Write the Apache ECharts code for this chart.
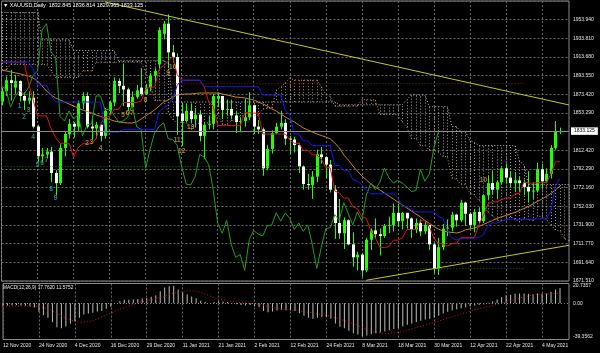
<!DOCTYPE html>
<html>
<head>
<meta charset="utf-8">
<title>XAUUSD Daily</title>
<script src="https://cdn.jsdelivr.net/npm/echarts@6/dist/echarts.min.js"></script>
<style>
  html, body { margin: 0; padding: 0; background: #000; }
  #chart { width: 600px; height: 353px; }
</style>
</head>
<body>
<div id="chart"></div>
<script>
// daily bars, 12 Nov 2020 .. 10 May 2021, plus two future slots for the cloud
const dates = ['12 Nov 2020','13 Nov 2020','16 Nov 2020','17 Nov 2020','18 Nov 2020','19 Nov 2020','20 Nov 2020','23 Nov 2020','24 Nov 2020','25 Nov 2020','26 Nov 2020','27 Nov 2020','30 Nov 2020',
  '1 Dec 2020','2 Dec 2020','3 Dec 2020','4 Dec 2020','7 Dec 2020','8 Dec 2020','9 Dec 2020','10 Dec 2020','11 Dec 2020','14 Dec 2020','15 Dec 2020','16 Dec 2020','17 Dec 2020','18 Dec 2020','21 Dec 2020','22 Dec 2020','23 Dec 2020','24 Dec 2020','28 Dec 2020','29 Dec 2020','30 Dec 2020','31 Dec 2020',
  '4 Jan 2021','5 Jan 2021','6 Jan 2021','7 Jan 2021','8 Jan 2021','11 Jan 2021','12 Jan 2021','13 Jan 2021','14 Jan 2021','15 Jan 2021','18 Jan 2021','19 Jan 2021','20 Jan 2021','21 Jan 2021','22 Jan 2021','25 Jan 2021','26 Jan 2021','27 Jan 2021','28 Jan 2021','29 Jan 2021',
  '1 Feb 2021','2 Feb 2021','3 Feb 2021','4 Feb 2021','5 Feb 2021','8 Feb 2021','9 Feb 2021','10 Feb 2021','11 Feb 2021','12 Feb 2021','15 Feb 2021','16 Feb 2021','17 Feb 2021','18 Feb 2021','19 Feb 2021','22 Feb 2021','23 Feb 2021','24 Feb 2021','25 Feb 2021','26 Feb 2021',
  '1 Mar 2021','2 Mar 2021','3 Mar 2021','4 Mar 2021','5 Mar 2021','8 Mar 2021','9 Mar 2021','10 Mar 2021','11 Mar 2021','12 Mar 2021','15 Mar 2021','16 Mar 2021','17 Mar 2021','18 Mar 2021','19 Mar 2021','22 Mar 2021','23 Mar 2021','24 Mar 2021','25 Mar 2021','26 Mar 2021','29 Mar 2021','30 Mar 2021','31 Mar 2021',
  '1 Apr 2021','5 Apr 2021','6 Apr 2021','7 Apr 2021','8 Apr 2021','9 Apr 2021','12 Apr 2021','13 Apr 2021','14 Apr 2021','15 Apr 2021','16 Apr 2021','19 Apr 2021','20 Apr 2021','21 Apr 2021','22 Apr 2021','23 Apr 2021','26 Apr 2021','27 Apr 2021','28 Apr 2021','29 Apr 2021','30 Apr 2021',
  '3 May 2021','4 May 2021','5 May 2021','6 May 2021','7 May 2021','10 May 2021','11 May 2021','12 May 2021'];

const open = [1865,1876,1888,1880,1887,1871,1866,1869,1838,1806,
  1808,1811,1788,1777,1815,1830,1841,1838,1863,1871,
  1838,1836,1840,1828,1855,1864,1887,1882,1878,1859,
  1870,1880,1873,1880,1893,1905,1938,1949,1918,1913,
  1852,1844,1855,1846,1851,1828,1840,1841,1868,1871,
  1856,1857,1850,1843,1844,1848,1861,1838,1835,1793,
  1814,1831,1838,1842,1825,1824,1818,1795,1776,1775,
  1784,1808,1805,1797,1770,1734,1723,1737,1711,1697,
  1700,1683,1716,1726,1722,1720,1731,1732,1745,1736,
  1745,1739,1727,1734,1725,1732,1711,1685,1708,1728,
  1729,1743,1737,1756,1744,1732,1746,1736,1764,1777,
  1770,1778,1793,1783,1777,1780,1777,1773,1768,1769,
  1792,1779,1787,1815,1832.845];
const high = [1880,1892,1899,1894,1888,1875,1876,1876,1840,1815,
  1815,1816,1791,1819,1833,1846,1843,1866,1875,1875,
  1850,1843,1840,1858,1866,1891,1890,1906,1880,1876,
  1883,1901,1884,1896,1901,1945,1952,1959,1926,1917,
  1864,1863,1863,1858,1855,1843,1850,1873,1875,1871,
  1867,1867,1854,1848,1868,1875,1862,1845,1837,1818,
  1834,1842,1855,1846,1828,1827,1820,1796,1787,1790,
  1813,1816,1806,1802,1775,1760,1740,1738,1724,1703,
  1702,1718,1728,1739,1728,1733,1741,1755,1755,1746,
  1745,1740,1739,1738,1736,1732,1713,1718,1733,1738,
  1746,1744,1759,1757,1746,1749,1751,1765,1785,1790,
  1780,1794,1798,1790,1789,1784,1781,1790,1778,1799,
  1798,1793,1818,1844,1836.814];
const low = [1861,1871,1866,1873,1865,1856,1862,1836,1800,1799,
  1804,1778,1764,1775,1806,1825,1826,1833,1857,1836,
  1824,1825,1822,1825,1851,1860,1874,1860,1855,1858,
  1868,1871,1872,1876,1885,1900,1932,1901,1907,1829,
  1817,1843,1842,1837,1822,1803,1835,1835,1860,1846,
  1850,1846,1831,1832,1838,1845,1830,1830,1785,1791,
  1809,1830,1835,1818,1808,1810,1788,1770,1770,1760,
  1778,1798,1782,1767,1717,1717,1706,1710,1687,1683,
  1676,1681,1705,1717,1699,1718,1723,1725,1730,1727,
  1728,1718,1723,1720,1722,1705,1680,1678,1705,1720,
  1725,1730,1735,1731,1728,1724,1733,1734,1759,1765,
  1760,1776,1777,1773,1768,1768,1764,1756,1760,1767,
  1771,1777,1782,1813,1829.965];
const close = [1876,1888,1885,1887,1871,1866,1869,1838,1806,1808,
  1811,1788,1777,1815,1830,1841,1838,1863,1871,1838,
  1836,1840,1828,1855,1864,1887,1882,1878,1859,1870,
  1877,1873,1880,1893,1898,1942,1949,1918,1913,1849,
  1844,1855,1846,1851,1828,1840,1841,1871,1871,1856,
  1857,1850,1843,1844,1848,1861,1838,1835,1793,1814,
  1831,1838,1842,1825,1824,1818,1795,1776,1775,1784,
  1808,1805,1797,1770,1734,1723,1737,1711,1697,1700,
  1683,1716,1726,1722,1720,1731,1732,1745,1736,1745,
  1739,1727,1734,1725,1732,1711,1685,1708,1728,1729,
  1743,1737,1756,1744,1732,1746,1736,1764,1777,1770,
  1778,1793,1783,1777,1780,1777,1773,1768,1769,1792,
  1779,1787,1815,1832.5,1833.125];

// Ichimoku lines
const tenkan = [1907.5,1907.5,1907.5,1907.5,1907.5,1907.5,1885,1867.5,1849.5,1849.5,
  1849.5,1836,1826,1820,1820,1820,1805,1815,1819.5,1819.5,
  1819.5,1825,1840.5,1848.5,1848.5,1856.5,1856.5,1864,1864,1864,
  1864,1865.5,1878.5,1880.5,1880.5,1900,1903.5,1908.5,1913.5,1894,
  1888,1888,1888,1888,1888,1881,1864.5,1860,1839,1839,
  1839,1839,1839,1839,1853,1853,1852.5,1852.5,1830,1830,
  1830,1830,1830,1830,1823.5,1820,1820,1812.5,1812.5,1807.5,
  1807.5,1803,1794,1793.5,1768.5,1766.5,1761,1761,1751.5,1749.5,
  1741,1739,1725.5,1718,1708,1707.5,1708.5,1715.5,1715.5,1718,
  1727,1727,1727,1736.5,1736.5,1730,1717.5,1712,1711.5,1709,
  1712,1712,1718.5,1718.5,1718.5,1718.5,1732,1742.5,1754.5,1757,
  1757,1759,1761,1761,1765.5,1766,1778.5,1777,1777,1777.5,
  1777.5,1777.5,1787,1800,1800];
const kijun = [1907.5,1907.5,1907.5,1907.5,1907.5,1907.5,1907.5,1900.5,1882.5,1882.5,
  1882.5,1871.5,1864.5,1864.5,1864.5,1864.5,1864.5,1864.5,1864.5,1864.5,
  1864.5,1864.5,1864.5,1832,1832,1832,1832,1835,1835,1835,
  1835,1835,1835,1835,1835,1854.5,1858,1861.5,1867,1882.5,
  1888,1888,1888,1888,1888,1881,1881,1881,1881,1881,
  1881,1881,1881,1881,1881,1881,1881,1881,1872,1872,
  1872,1872,1872,1855.5,1851,1830,1830,1822.5,1822.5,1817.5,
  1817.5,1817.5,1817.5,1817.5,1796,1796,1790.5,1790.5,1781,1779,
  1775.5,1769,1765.5,1765.5,1765.5,1765.5,1765.5,1765.5,1761,1752,
  1751.5,1748,1746,1746,1746,1746,1746,1741,1739,1725.5,
  1718,1715.5,1717.5,1717.5,1717.5,1717.5,1718.5,1721.5,1731.5,1734,
  1734,1736,1738,1738,1738,1738,1738,1738,1738,1738.5,
  1738.5,1738.5,1748,1774.5,1782];
const senkouA = [1899,1899,1905,1905,1905,1905,1905,1905,1905,1905,
  1905,1898,1891,1891,1891,1891,1891,1891,1898,1898,
  1898,1907,1907,1907,1907,1907,1907.5,1907.5,1907.5,1907.5,
  1907.5,1907.5,1896.3,1884,1866,1866,1866,1853.8,1845.3,1842.3,
  1842.3,1842.3,1834.8,1839.8,1842,1842,1842,1844.8,1852.5,1840.3,
  1840.3,1844.3,1844.3,1849.5,1849.5,1849.5,1849.5,1850.3,1856.8,1857.8,
  1857.8,1877.3,1880.8,1885,1890.3,1888.3,1888,1888,1888,1888,
  1888,1881,1872.8,1870.5,1860,1860,1860,1860,1860,1860,
  1867,1867,1866.8,1866.8,1851,1851,1851,1851,1851,1842.8,
  1837.3,1825,1825,1817.5,1817.5,1812.5,1812.5,1810.3,1805.8,1805.5,
  1782.3,1781.3,1775.8,1775.8,1766.3,1764.3,1758.3,1754,1745.5,1741.8,
  1736.8,1736.5,1737,1740.5,1738.3,1735,1739.3,1737.5,1736.5,1741.3,
  1741.3,1738,1731.8,1726.5,1725.3,1717.3,1715];
const senkouB = [1961,1961,1961,1961,1961,1961,1961,1961,1961,1931.5,
  1931.5,1931.5,1931.5,1931.5,1931.5,1931.5,1920,1920,1920,1920,
  1920,1920,1920,1920,1920,1920,1909,1909,1909,1909,
  1909,1909,1909,1909,1909,1909,1909,1906.5,1864.5,1864.5,
  1864.5,1864.5,1864.5,1864.5,1864.5,1864.5,1864.5,1864.5,1864.5,1864.5,
  1864.5,1864.5,1864.5,1864.5,1864.5,1864.5,1864.5,1864.5,1864.5,1864.5,
  1864.5,1864.5,1864.5,1864.5,1864.5,1864.5,1864.5,1864.5,1864.5,1864.5,
  1864.5,1864.5,1864.5,1864.5,1864.5,1861.5,1861.5,1861.5,1861.5,1861.5,
  1861.5,1861.5,1861.5,1861.5,1861.5,1861.5,1861.5,1861.5,1861.5,1861.5,
  1867,1872,1872,1872,1872,1859.5,1859.5,1859.5,1859.5,1859.5,
  1838,1838,1832.5,1832.5,1823,1821,1817.5,1817.5,1817.5,1817.5,
  1817.5,1817.5,1817.5,1817.5,1817.5,1801,1796.5,1775.5,1775.5,1775.5,
  1775.5,1775.5,1775.5,1775.5,1775.5,1775.5,1775.5];

// orange moving average
const ma = [1899,1898,1897,1896,1895,1893.6,1892.6,1890.4,1887.2,1881.8,
  1876.4,1872,1868.9,1866.7,1864.5,1862.4,1860.2,1858.1,1855.9,1854.3,
  1852.7,1850.5,1848.9,1847.3,1845.7,1844.1,1843,1842.4,1841.9,1841.9,
  1843,1846.2,1849.5,1852.7,1856,1860.2,1864.5,1866.7,1869.9,1872.1,
  1872.6,1873.2,1873.2,1873.7,1874.2,1874.2,1874.2,1874.2,1874.2,1873.2,
  1872.1,1871,1869.9,1869.4,1868.9,1867.8,1866.7,1864.5,1862.4,1860.2,
  1857,1854.8,1851.6,1848.4,1845.7,1843,1839.8,1836.5,1834.4,1832.2,
  1830.1,1828.4,1826.8,1824.7,1820.3,1815,1807.4,1802,1795.6,1790.2,
  1784.8,1780.5,1776.2,1772.9,1769.7,1766.4,1763.2,1760,1756.7,1753.5,
  1750.3,1747,1743.8,1740.6,1736.8,1733.6,1730.4,1727.6,1725.5,1724.4,
  1723.9,1723.3,1724.4,1726.6,1727.6,1728.7,1730.4,1732.5,1734.6,1736.8,
  1739,1740.6,1742.2,1743.8,1745.4,1747.6,1749.7,1751.9,1754.6,1757.3,
  1760,1762.7,1765.9,1769.7,1774];

// MACD(12,26,9): main as histogram, signal as dotted line
const macdMain = [-3,-2.5,-2,-2,-2.5,-3,-3.5,-5,-10,-14,
  -17,-22,-28,-29,-27,-24,-21,-17,-13,-12,
  -11,-9.5,-9,-6.5,-4,0,2.5,4,4,4.5,
  5,5.5,6,7.5,9,14,18.5,20,20.5,16,
  12.5,10.5,8,6,3,1.5,0,1.5,2.5,2,
  1.5,0.5,-1,-2,-2.5,-2,-3.5,-4.5,-9,-10.5,
  -9.5,-8.5,-7.5,-8,-8.5,-9,-11.5,-14.5,-17,-18,
  -17,-16,-16,-18,-23.5,-27.5,-29,-32,-35,-36.5,
  -38.5,-37.5,-36,-35,-34,-33,-31.5,-30,-29,-27,
  -25,-23.5,-22,-20.5,-19,-18,-16.5,-14.5,-12,-10,
  -8.5,-7,-5.8,-4.5,-3.5,-2.5,-2,-1.2,0.5,2.5,
  4.5,7,9,10,11,11.5,11.5,11,10.5,11.5,
  11.5,11.5,13.5,16,17.762];
const macdSignal = [-3,-3,-3.1,-3.1,-3.2,-3.3,-3.4,-3.5,-3.7,-4.9,
  -6.6,-8.8,-11.7,-14.6,-17.3,-19.6,-21.3,-22.1,-22,-21.4,
  -20.2,-18.2,-15.9,-13.7,-11.4,-9.1,-6.9,-5.1,-3.3,-1.6,
  0.1,1.7,3.1,4.3,5.3,6.6,8.2,10,11.8,13,
  13.8,14.3,14.3,14,12.8,10.9,8.7,6.6,5.1,3.9,
  2.9,2.1,1.3,0.7,0.3,0.1,-0.5,-1.3,-2.5,-3.8,
  -4.9,-5.8,-6.4,-7,-7.7,-8.3,-9.1,-9.7,-10.4,-11.4,
  -12.3,-13.3,-14.2,-15.2,-16.8,-18.6,-20.2,-21.9,-23.8,-25.9,
  -28.4,-30.9,-32.8,-34.1,-34.8,-35.3,-35.2,-34.7,-33.8,-32.6,
  -31.2,-29.8,-28.3,-26.8,-25.3,-23.8,-22.3,-20.7,-19,-17.3,
  -15.7,-14,-12.4,-10.8,-9.1,-7.6,-6.2,-5,-3.8,-2.6,
  -1.3,0.1,1.6,3.1,4.6,6.1,7.5,8.7,9.6,10.3,
  10.8,11.1,11.2,11.4,11.5752];

// price scale labels on the right (the one under the bid box is hidden)
const priceLabels = ['1671.510','1691.640','1711.770','1731.900','1752.030','1772.160','1792.290','1812.420','',
  '1853.290','1873.420','1893.550','1913.680','1933.810','1953.940'];
const macdLabels = [-39.3562, 0, 20.7357];

// drawn objects: [bar index, price]
const trendUpper = [[23, 1972.3], [126, 1861.3]];
const trendLower = [[81, 1672.3], [126, 1710]];
const levelRed = [[0, 1884.3], [116, 1884.3]];
const levelGreenHigh = [[0, 1794.8], [74, 1794.8]];
const levelGreenLow = [[81, 1684.8], [116, 1684.8]];

// TD sequential counts: [bar index, price, text]
const tdSetup = [[4,1860.2,'1'],[5,1848.4,'2'],[6,1855.9,'3'],[7,1826.8,'4'],[8,1796.6,'5'],
  [9,1798.8,'6'],[10,1802,'7'],[11,1770.8,'8'],[12,1761.1,'9']];
const tdCount = [[19,1820.3,'2'],[20,1821.4,'3'],[22,1815,'4'],[27,1850.5,'5'],[28,1852.7,'6'],
  [29,1852.7,'7'],[32,1866.7,'8'],[37,1895.8,'9'],[38,1902.3,'10'],[39,1823.6,'11'],
  [40,1811.7,'12'],[42,1837.6,'13'],[107,1780.5,'10']];

const yMin = 1671.51;
const yStep = 20.13;
const yMax = 1973.4;

const font = 'Liberation Sans';
const bullColor = '#22ff00';
const bearColor = '#ffffff';
const candles = open.map((o, i) => [i, o, close[i], low[i], high[i]]);
const cloud = senkouA.map((a, i) => [i, a, senkouB[i]]);
const chikou = close.slice(26);
const lastClose = close[close.length - 1];
const dateTick = (i) => i % 8 === 0;

const gridLine = { show: true, interval: dateTick, lineStyle: { color: '#6a6a6a', type: [2, 2], width: 1 } };

const chart = echarts.init(document.getElementById('chart'));

const plainLine = (name, data, color, extra) => Object.assign({
  name, type: 'line', data, symbol: 'none', silent: true,
  lineStyle: { color, width: 1 }, xAxisIndex: 0, yAxisIndex: 0,
}, extra || {});

const tdSeries = (data, color) => ({
  type: 'scatter', data, symbolSize: 1, silent: true, z: 5,
  itemStyle: { color: 'rgba(0,0,0,0)' },
  label: { show: true, position: 'inside', formatter: (p) => p.data[2], color,
    fontSize: 6.5, fontWeight: 'bold', fontFamily: font },
});

chart.setOption({
  backgroundColor: '#000',
  animation: false,
  textStyle: { fontFamily: font },
  title: [
    { text: '\u25BC XAUUSD,Daily  1832.845 1836.814 1829.965 1833.125', left: 3, top: 3, padding: 0,
      textStyle: { color: '#ffffff', fontSize: 5.4, fontWeight: 'normal', fontFamily: font } },
    { text: 'MACD(12,26,9) 17.7620 11.5752', left: 3, top: 285.5, padding: 0,
      textStyle: { color: '#e8e8e8', fontSize: 4.8, fontWeight: 'normal', fontFamily: font } },
  ],
  grid: [
    { left: 1.5, top: 1, width: 567.5, height: 280, show: true, borderColor: '#8a8a8a', borderWidth: 1 },
    { left: 1.5, top: 283.5, width: 567.5, height: 56, show: true, borderColor: '#8a8a8a', borderWidth: 1 },
  ],
  xAxis: [
    { type: 'category', gridIndex: 0, data: dates, boundaryGap: false,
      axisLine: { show: false }, axisTick: { show: false }, axisLabel: { show: false }, splitLine: gridLine },
    { type: 'category', gridIndex: 1, data: dates, boundaryGap: false,
      axisLine: { show: false }, axisTick: { show: false },
      axisLabel: { interval: dateTick, color: '#e6e6e6', fontSize: 5, align: 'left', margin: 4, fontFamily: font },
      splitLine: gridLine },
  ],
  yAxis: [
    { type: 'value', gridIndex: 0, position: 'right', min: yMin, max: yMax, interval: yStep,
      axisLine: { show: false }, axisTick: { show: false },
      axisLabel: { color: '#e6e6e6', fontSize: 5, margin: 4, fontFamily: font,
        formatter: (v) => {
          const k = Math.round((v - yMin) / yStep);
          return Math.abs(v - (yMin + k * yStep)) < 0.01 ? (priceLabels[k] || '') : '';
        } },
      splitLine: { show: true, lineStyle: { color: '#6a6a6a', type: [2, 2], width: 1 } } },
    { type: 'value', gridIndex: 1, position: 'right', min: -42.27, max: 23.07,
      axisLine: { show: false }, axisTick: { show: false }, splitLine: { show: false },
      axisLabel: { customValues: macdLabels, color: '#e6e6e6', fontSize: 5, margin: 4, fontFamily: font,
        formatter: (v) => (v === 0 ? '0.00' : String(v)) } },
  ],
  series: [
    // cloud hatch: one dotted vertical stroke per bar between span A and span B
    {
      type: 'custom', xAxisIndex: 0, yAxisIndex: 0, data: cloud, silent: true, clip: true,
      encode: { x: 0, y: [1, 2] },
      renderItem: (params, api) => {
        const a = api.value(1);
        const b = api.value(2);
        const p1 = api.coord([api.value(0), a]);
        const p2 = api.coord([api.value(0), b]);
        const x = Math.round(p1[0]) + 0.5;
        return {
          type: 'line',
          shape: { x1: x, y1: p1[1], x2: x, y2: p2[1] },
          style: { stroke: a >= b ? '#b5825a' : '#a8a0a8', lineWidth: 1, lineDash: [1, 2] },
        };
      },
    },
    plainLine('Senkou A', senkouA, '#c98d5e', { lineStyle: { color: '#c98d5e', width: 1, type: [1, 2] } }),
    plainLine('Senkou B', senkouB, '#c9bfc9', { lineStyle: { color: '#c9bfc9', width: 1, type: [1, 2] } }),
    plainLine('Red level', levelRed, '#8b1010', { lineStyle: { color: '#8b1010', width: 1, type: [1, 2] } }),
    plainLine('Green level', levelGreenHigh, '#1f6a1f', { lineStyle: { color: '#1f6a1f', width: 1, type: [1, 2] } }),
    plainLine('Green level low', levelGreenLow, '#1f6a1f', { lineStyle: { color: '#1f6a1f', width: 1, type: [1, 2] } }),
    plainLine('MA', ma, '#c8861e', {
      markLine: {
        silent: true, symbol: 'none', animation: false,
        data: [{ yAxis: lastClose }],
        lineStyle: { color: '#8c8c8c', type: 'solid', width: 1 },
        label: { show: true, position: 'end', distance: 2, formatter: lastClose.toFixed(3),
          color: '#000', backgroundColor: '#fff', fontSize: 5, padding: [1.5, 3, 1, 3], fontFamily: font },
      },
    }),
    plainLine('Chikou', chikou, '#1fa01f'),
    // candles: lime wick for every bar, lime body when up, white body when down
    {
      name: 'XAUUSD', type: 'custom', xAxisIndex: 0, yAxisIndex: 0, data: candles, silent: true, clip: true,
      encode: { x: 0, y: [1, 2, 3, 4] },
      renderItem: (params, api) => {
        const i = api.value(0);
        const o = api.value(1);
        const c = api.value(2);
        const top = api.coord([i, api.value(4)]);
        const bottom = api.coord([i, api.value(3)]);
        const po = api.coord([i, o]);
        const pc = api.coord([i, c]);
        const x = Math.round(top[0]) + 0.5;
        const y = Math.min(po[1], pc[1]);
        const h = Math.max(Math.abs(po[1] - pc[1]), 1);
        return {
          type: 'group',
          children: [
            { type: 'line', shape: { x1: x, y1: top[1], x2: x, y2: bottom[1] }, style: { stroke: bullColor, lineWidth: 1 } },
            { type: 'rect', shape: { x: x - 1.5, y, width: 3, height: h }, style: { fill: c >= o ? bullColor : bearColor } },
          ],
        };
      },
    },
    plainLine('Tenkan', tenkan, '#e01414'),
    plainLine('Kijun', kijun, '#1818ee'),
    plainLine('Trend high', trendUpper, '#c8c81e'),
    plainLine('Trend low', trendLower, '#c8c81e'),
    tdSeries(tdSetup, '#2bb39a'),
    tdSeries(tdCount, '#d6a21e'),
    {
      name: 'MACD', type: 'bar', xAxisIndex: 1, yAxisIndex: 1, data: macdMain, barWidth: 1, silent: true,
      itemStyle: { color: '#bdbdbd' },
      markLine: {
        silent: true, symbol: 'none', animation: false, label: { show: false },
        data: [{ yAxis: 0 }],
        lineStyle: { color: '#8a8a8a', type: [1, 2], width: 1 },
      },
    },
    {
      name: 'Signal', type: 'line', xAxisIndex: 1, yAxisIndex: 1, data: macdSignal, symbol: 'none', silent: true,
      lineStyle: { color: '#d01818', width: 1, type: [1, 2] },
    },
  ],
});
</script>
</body>
</html>
